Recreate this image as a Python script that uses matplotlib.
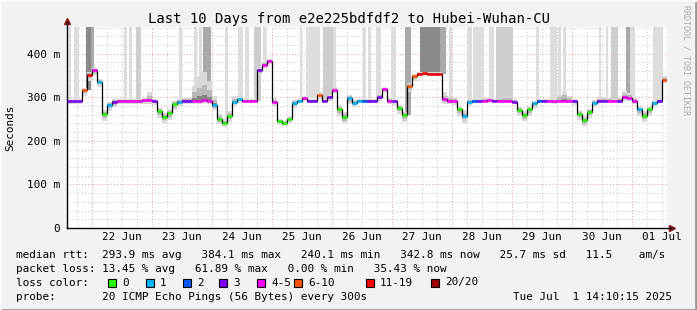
import datetime as dt
import matplotlib
matplotlib.use("Agg")
import matplotlib.pyplot as plt
import matplotlib.dates as mdates
from matplotlib.patches import Rectangle
from matplotlib.lines import Line2D

W, H = 697, 310

t_start = dt.datetime(2025, 6, 21, 14, 10, 15)
t_end = dt.datetime(2025, 7, 1, 14, 10, 15)
step_h = 2  # one value every 2 hours

# median rtt (ms), one per 2h step
median_ms = [291, 291, 291, 316, 352, 363, 336, 262, 282, 290,
             292, 292, 292, 292, 292, 293, 293, 291, 268, 255,
             264, 284, 290, 292, 292, 292, 292, 293, 292, 283,
             250, 242, 258, 290, 295, 292, 292, 292, 362, 375,
             384, 290, 245, 241, 250, 286, 292, 298, 292, 292,
             305, 292, 300, 316, 272, 254, 298, 288, 292, 292,
             292, 292, 300, 318, 292, 291, 276, 260, 325, 348,
             354, 355, 354, 354, 354, 295, 292, 291, 272, 258,
             290, 292, 292, 292, 293, 292, 292, 292, 292, 290,
             270, 259, 272, 286, 292, 292, 292, 291, 292, 292,
             292, 291, 262, 247, 266, 288, 292, 292, 292, 292,
             292, 300, 299, 292, 272, 258, 272, 287, 292, 340]

# lost pings out of 20
loss_cnt = [3, 3, 3, 8, 13, 4, 1, 0, 1, 3,
            4, 4, 4, 4, 4, 4, 4, 3, 0, 0,
            0, 0, 1, 3, 3, 4, 4, 4, 4, 1,
            0, 0, 0, 1, 1, 4, 4, 4, 3, 4,
            4, 4, 0, 0, 0, 1, 1, 4, 3, 3,
            8, 3, 3, 4, 0, 0, 1, 1, 1, 2,
            3, 3, 3, 4, 4, 3, 0, 0, 8, 8,
            13, 13, 13, 13, 13, 4, 4, 4, 0, 1,
            1, 2, 3, 4, 4, 3, 4, 4, 4, 3,
            0, 0, 0, 1, 2, 3, 4, 4, 4, 4,
            4, 3, 0, 0, 0, 1, 3, 3, 4, 4,
            3, 4, 4, 4, 1, 0, 0, 1, 3, 8]

# smoke extent below / above the median (ms)
smoke_dn = [6, 6, 6, 12, 14, 12, 12, 16, 14, 12,
            8, 8, 8, 8, 8, 8, 8, 8, 16, 14,
            16, 14, 10, 7, 7, 7, 7, 7, 7, 12,
            12, 10, 14, 10, 8, 6, 6, 6, 10, 8,
            8, 10, 8, 8, 8, 10, 6, 6, 6, 6,
            8, 6, 6, 6, 14, 14, 14, 10, 6, 6,
            6, 6, 8, 8, 8, 8, 14, 16, 14, 10,
            6, 6, 6, 6, 6, 10, 8, 8, 14, 16,
            10, 6, 6, 6, 6, 6, 6, 6, 6, 6,
            12, 14, 14, 10, 6, 6, 6, 6, 6, 6,
            6, 8, 14, 14, 14, 10, 6, 6, 6, 6,
            6, 8, 8, 8, 14, 14, 14, 10, 6, 8]
smoke_up = [4, 4, 4, 6, 6, 4, 6, 8, 8, 6,
            4, 4, 4, 4, 4, 6, 20, 6, 8, 8,
            8, 8, 6, 6, 6, 35, 55, 65, 45, 20,
            12, 8, 10, 12, 8, 4, 4, 4, 6, 6,
            4, 8, 6, 6, 6, 8, 4, 6, 4, 4,
            6, 4, 6, 8, 10, 12, 8, 6, 4, 4,
            4, 4, 8, 6, 6, 4, 6, 6, 8, 6,
            3, 3, 3, 3, 3, 16, 12, 8, 8, 12,
            8, 4, 4, 6, 6, 4, 6, 12, 10, 6,
            8, 10, 8, 6, 4, 4, 4, 6, 14, 22,
            10, 6, 8, 10, 8, 6, 6, 8, 6, 4,
            6, 14, 10, 6, 8, 10, 8, 6, 4, 8]

# very slow pings going off the top (hours since start, shade 1..4)
spike_start = [0.8, 2.8, 7.6, 9.6, 22.8, 24.6, 27.6, 44.8, 50.8, 52.8,
               54.4, 63.2, 68.4, 71.2, 74.8, 78.4, 93.2, 95.6, 102.4, 106.4,
               118.4, 120.4, 123.6, 129.6, 135.2, 141.2, 149.2, 152.8, 160.0, 162.4,
               168.8, 171.6, 187.6, 193.2, 196.4, 198.4, 212.8, 215.6, 217.6, 223.6,
               225.2, 234.4]
spike_end = [1.6, 4.8, 9.6, 10.8, 24.0, 25.8, 29.6, 46.0, 52.0, 54.0,
             57.6, 64.4, 70.4, 72.8, 77.6, 80.0, 94.0, 101.2, 106.4, 107.6,
             119.6, 121.6, 125.6, 131.6, 137.6, 149.2, 151.6, 154.0, 162.0, 166.8,
             170.8, 178.4, 188.8, 196.0, 197.6, 199.6, 213.6, 216.4, 220.4, 225.2,
             227.2, 238.4]
spike_level = [1, 1, 4, 3, 1, 1, 2, 1, 1, 1,
               3, 1, 1, 1, 2, 1, 1, 1, 2, 1,
               1, 1, 1, 1, 3, 4, 3, 1, 1, 1,
               1, 2, 1, 1, 1, 1, 1, 1, 2, 3,
               1, 1]

loss_labels = ["0", "1", "2", "3", "4-5", "6-10", "11-19", "20/20"]
loss_upper = [0, 1, 2, 3, 5, 10, 19, 20]
loss_colors = ["#26ff00", "#00b8ff", "#0059ff", "#7e00ff",
               "#ff00ff", "#ff5500", "#ff0000", "#a10000"]
spike_colors = {1: "#dddddd", 2: "#cdcdcd", 3: "#a9a9a9", 4: "#8a8a8a"}

y_top = 462
fs = 7.9
plt.rcParams["font.family"] = "DejaVu Sans Mono"

n = len(median_ms)
edges = [mdates.date2num(t_start + dt.timedelta(hours=step_h * i)) for i in range(n + 1)]


def hx(h):
    return mdates.date2num(t_start + dt.timedelta(hours=h))


def loss_color(c):
    for up, col in zip(loss_upper, loss_colors):
        if c <= up:
            return col
    return loss_colors[-1]


fig = plt.figure(figsize=(W / 100, H / 100), dpi=100, facecolor="#f2f2f2")
ax = fig.add_axes([67 / W, 82 / H, 600 / W, 201.3 / H])
ax.set_facecolor("white")
ax.set_xlim(edges[0], edges[-1])
ax.set_ylim(0, y_top)

# grid
day = t_start.replace(hour=0, minute=0, second=0) + dt.timedelta(hours=6)
while day < t_end:
    if day > t_start:
        col = "#f09a9a" if day.hour == 0 else "#c8c8c8"
        ax.axvline(mdates.date2num(day), color=col, lw=0.7, ls=(0, (1, 2)), zorder=0.5)
    day += dt.timedelta(hours=6)
for yv in range(20, y_top, 20):
    col = "#f09a9a" if yv % 100 == 0 else "#c8c8c8"
    ax.axhline(yv, color=col, lw=0.7, ls=(0, (1, 2)), zorder=0.5)

# off-scale spikes
for s, e, lv in zip(spike_start, spike_end, spike_level):
    idx = min(int(s // step_h), n - 1)
    base = median_ms[idx]
    ax.fill_between([hx(s), hx(e)], [base, base], [y_top, y_top],
                    color=spike_colors[lv], lw=0, zorder=1)

# smoke
lo = [m - d for m, d in zip(median_ms, smoke_dn)]
hi = [m + u for m, u in zip(median_ms, smoke_up)]
for frac, col in [(1.0, "#d9d9d9"), (0.55, "#bababa"), (0.2, "#858585")]:
    l2 = [m - frac * (m - v) for m, v in zip(median_ms, lo)]
    h2 = [m + frac * (v - m) for m, v in zip(median_ms, hi)]
    ax.fill_between(edges, l2 + [l2[-1]], h2 + [h2[-1]], step="post",
                    color=col, lw=0, zorder=2)

# median line + loss colour
ax.step(edges, median_ms + [median_ms[-1]], where="post", color="black", lw=0.9, zorder=3)
for i in range(n):
    ax.plot([edges[i], edges[i + 1]], [median_ms[i], median_ms[i]],
            color=loss_color(loss_cnt[i]), lw=1.8, solid_capstyle="butt", zorder=4)

# axes
for sp in ["top", "right"]:
    ax.spines[sp].set_visible(False)
ax.spines["left"].set_linewidth(1)
ax.spines["bottom"].set_linewidth(1)
ax.spines["left"].set_bounds(0, y_top * 1.025)
ax.spines["bottom"].set_bounds(edges[0], edges[-1] + (edges[-1] - edges[0]) * 0.008)
ax.plot([0], [1.028], marker="^", color="#8b1a1a", ms=4, transform=ax.transAxes, clip_on=False)
ax.plot([1.008], [0], marker=">", color="#8b1a1a", ms=4, transform=ax.transAxes, clip_on=False)

ax.set_yticks([0, 100, 200, 300, 400])
ax.set_yticklabels(["0", "100 m", "200 m", "300 m", "400 m"])
ax.xaxis.set_major_locator(mdates.HourLocator(byhour=[12]))
ax.xaxis.set_major_formatter(mdates.DateFormatter("%d %b"))
ax.tick_params(axis="both", length=0, labelsize=fs, colors="black")
ax.tick_params(axis="x", pad=3)
ax.tick_params(axis="y", pad=5)

fig.text(10 / W, 1 - 128 / H, "Seconds", rotation=90, ha="center", va="center", fontsize=fs)
fig.text(0.5, 1 - 19 / H, "Last 10 Days from e2e225bdfdf2 to Hubei-Wuhan-CU",
         ha="center", va="center", fontsize=10)
fig.text(686 / W, 1 - 60 / H, "RRDTOOL / TOBI OETIKER", rotation=270,
         ha="center", va="center", fontsize=6, color="#ababab")

stats_rtt = "median rtt:  293.9 ms avg   384.1 ms max   240.1 ms min   342.8 ms now   25.7 ms sd   11.5    am/s"
stats_loss = "packet loss: 13.45 % avg   61.89 % max   0.00 % min   35.43 % now"
probe_txt = "probe:       20 ICMP Echo Pings (56 Bytes) every 300s"
stamp_txt = "Tue Jul  1 14:10:15 2025"

fig.text(16 / W, 1 - 254.5 / H, stats_rtt, ha="left", va="center", fontsize=fs)
fig.text(16 / W, 1 - 268.5 / H, stats_loss, ha="left", va="center", fontsize=fs)
fig.text(16 / W, 1 - 282.5 / H, "loss color:", ha="left", va="center", fontsize=fs)
box_x = [108, 146, 183, 219, 257, 294, 366, 431]
for bx, lab, col in zip(box_x, loss_labels, loss_colors):
    fig.add_artist(Rectangle((bx / W, 1 - 286.5 / H), 8 / W, 8 / H, transform=fig.transFigure,
                             facecolor=col, edgecolor="black", lw=0.8))
    fig.text((bx + 14) / W, 1 - 282.5 / H, lab, ha="left", va="center", fontsize=fs)
fig.text(16 / W, 1 - 296.5 / H, probe_txt, ha="left", va="center", fontsize=fs)
fig.text(513 / W, 1 - 296.5 / H, stamp_txt, ha="left", va="center", fontsize=fs)

# frame
fig.add_artist(Line2D([0, 1], [0.5 / H, 0.5 / H], transform=fig.transFigure, color="#9a9a9a", lw=2))
fig.add_artist(Line2D([1 - 1 / W, 1 - 1 / W], [0, 1], transform=fig.transFigure, color="#9a9a9a", lw=2))
fig.add_artist(Line2D([0, 1], [1 - 0.5 / H, 1 - 0.5 / H], transform=fig.transFigure, color="#fafafa", lw=1.5))
fig.add_artist(Line2D([0.5 / W, 0.5 / W], [0, 1], transform=fig.transFigure, color="#fafafa", lw=1.5))

fig.savefig("out.png", dpi=100, facecolor=fig.get_facecolor())
